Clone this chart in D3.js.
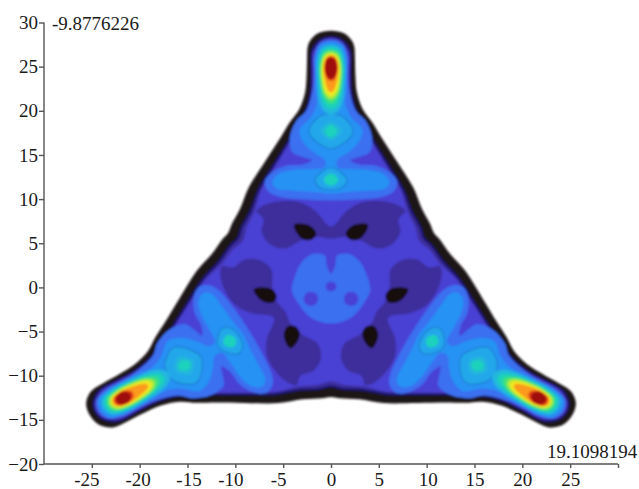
<!DOCTYPE html>
<html><head><meta charset="utf-8">
<script src="https://cdn.jsdelivr.net/npm/d3@7"></script>
<style>html,body{margin:0;background:#fff}svg{display:block}text{font-family:"Liberation Serif",serif;fill:#1a1a1a}</style>
</head><body><svg id="c" width="639" height="489"></svg>
<script>
const xTicks=[-25,-20,-15,-10,-5,0,5,10,15,20,25,30];
const yTicks=[-20,-15,-10,-5,0,5,10,15,20,25,30];
const cornerMin="-9.8776226", cornerMax="19.1098194";

// contour outlines, in data units (one symmetric sector each)
const edgeBlack=[[0,29.07],[1.4,28.75],[2.2,27.9],[2.44,27.2],[2.5,26],[2.55,24],[2.7,22.1],[3.3,20.2],[4.3,18.7],[5.25,17],[6.8,14.4],[8.6,11.3],[9.5,8.9],[10.4,7.1],[10.74,6.2]];
const edgeNavy=[[0,28.45],[1.15,28.1],[1.9,27.2],[2.1,26.5],[2.1,24],[2.2,22.1],[2.7,20.1],[3.55,18.5],[4.4,16.8],[5.9,14.2],[7.65,11.1],[8.5,8.7],[9.45,6.8],[9.8,5.66]];
const edgePurple=[[0,28.3],[1.05,27.95],[1.8,26.95],[1.96,26.4],[1.96,24],[2.05,22],[2.52,20.1],[3.4,18.4],[4.25,16.7],[5.72,14.1],[7.45,11],[8.3,8.6],[9.25,6.7],[9.6,5.54]];
const edgeIndigo=[[0,28.2],[1,27.85],[1.72,26.85],[1.9,26.2],[1.9,24],[1.98,22],[2.4,20.1],[3.3,18.4],[4.15,16.7],[5.6,14.1],[7.3,11],[8,8.6],[8.85,6.7],[9.2,5.31]];

const purpleBlob=[[0,6.9],[1.67,8.7],[3.4,9.7],[5.85,9.7],[7.4,9.1],[7.8,8.6],[7.3,8.1],[7.05,7.6],[7.25,6.3],[6.4,4.9],[4.8,4.4],[3.07,5.3],[1.3,5.7],[0,5.5]];
const eye=[[1.55,6.1],[2.1,6.9],[3,7.2],[3.85,7.1],[3.6,6.2],[2.8,5.4],[1.95,5.45]];
const centreBlob=[[0,1.55],[.45,2.5],[.63,3.6],[1.85,3.8],[3.07,2.85],[3.75,1.36],[4.1,-.35],[3.4,-1.85],[2.37,-3.2],[1,-3.96],[0,-4.1]];
const centreDot=[[0,.65],[.4,.5],[.55,.1],[.4,-.3],[0,-.45]];
const sideDot=[[2.1,-.5],[2.65,-.75],[2.85,-1.3],[2.65,-1.85],[2.1,-2.1],[1.55,-1.85],[1.35,-1.3],[1.55,-.75]];

const armBlue=[[0,28.06],[1.2,27.6],[1.74,26],[1.74,24.6],[1.85,22.7],[2.6,20],[3.6,18.9],[4.3,17],[4.05,15.3],[2.9,14.75],[2,14.4],[3.07,13.9],[4.6,13.8],[6.2,13],[6.95,11.9],[6.5,10.8],[5.5,10.3],[3.48,10],[0,9.85]];
const armLight=[[0,27.83],[1.15,27.4],[1.64,26],[1.64,24],[1.6,22.3],[1.5,20.8],[2.1,19.3],[3.3,17.8],[2.8,16.3],[1.57,15.1],[.63,14.4],[.7,13.6],[2.1,13.4],[3.94,13.3],[5.3,12.95],[6,12.3],[6.1,11.7],[5.6,11.15],[3.9,10.95],[1.74,10.8],[0,10.6]];
const armAzure=[[0,27.45],[1,27.05],[1.46,25.2],[1.4,23],[1.3,21.5],[.9,20.2],[.5,19.7],[0,19.5]];
const lobeOuterAzure=[[0,19.66],[1.05,19.47],[2.26,18],[2.26,17.4],[1.22,16.26],[0,15.7]];
const lobeInnerAzure=[[0,13.55],[.9,13.15],[1.67,12.1],[1.2,11.35],[0,11.05]];
const lobeOuterTeal=[[0,18.8],[.65,18.45],[1.15,17.7],[.65,17],[0,16.65]];
const lobeOuterCore=[[0,18.4],[.45,18.1],[.65,17.7],[.4,17.2],[0,17]];
const lobeInnerTeal=[[0,12.9],[.5,12.65],[.75,12.2],[.5,11.75],[0,11.55]];
const peakCyan=[[0,27.45],[1,27.05],[1.46,25.2],[1.4,23],[1.3,21.5],[.9,20.2],[0,19.7]];
const peakTeal=[[0,27.19],[.9,26.8],[1.32,25.2],[1.25,23.2],[1,21.6],[.5,20.4],[0,20.2]];
const peakGreen=[[0,26.9],[.8,26.55],[1.18,25.1],[1.12,23.3],[.88,21.9],[.4,21],[0,20.8]];
const peakLime=[[0,26.7],[.7,26.35],[1.05,25.1],[1,23.4],[.75,22.1],[.35,21.45],[0,21.3]];
const peakYellow=[[0,26.47],[.6,26.15],[.9,25.1],[.85,23.5],[.6,22.3],[.3,21.8],[0,21.65]];
const peakOrange=[[0,26.3],[.5,26.05],[.77,25.1],[.7,23.9],[.45,22.7],[.2,22.2],[0,22.1]];
const peakRedOrange=[[0,26.17],[.45,25.95],[.7,25.1],[.62,24.2],[.33,23.55],[0,23.4]];
const peakRed=[[0,26.05],[.4,25.85],[.63,25.1],[.55,24.3],[.3,23.75],[0,23.6]];
const sideRedOrange=[[0,26.1],[.5,25.9],[.74,25.2],[.65,24.5],[.3,24],[0,23.9]];
const sideRed=[[0,25.9],[.45,25.7],[.66,25.1],[.55,24.6],[.25,24.3],[0,24.2]];

const x=d3.scaleLinear().domain([-30,30]).range([44,618]);
const y=d3.scaleLinear().domain([-20,30]).range([464,22.5]);
const rot=(p,k)=>{const a=-2*Math.PI/3*k,c=Math.cos(a),s=Math.sin(a);return [p[0]*c-p[1]*s,p[0]*s+p[1]*c];};
const mir=p=>[-p[0],p[1]];
function star(S){let o=[];for(let k=0;k<3;k++){const b=S.map(p=>rot(mir(p),1)).reverse().slice(1,-1);o=o.concat(S.map(p=>rot(p,k)),b.map(p=>rot(p,k)));}return [o];}
function closeHalf(h){return h.concat(h.slice().reverse().filter(p=>p[0]!==0).map(mir));}
function tri(poly){return [0,1,2].map(k=>poly.map(p=>rot(p,k)));}
const island=h=>tri(closeHalf(h));
const pair=p=>tri(p).concat(tri(p.map(mir)));
const topOnly=h=>island(h).slice(0,1);
const sidesOnly=h=>island(h).slice(1);

const layers=[
 {c:"#1c1216",s:star(edgeBlack)},
 {c:"#1e1877",s:star(edgeNavy)},
 {c:"#3d2f9b",s:star(edgePurple)},
 {c:"#4a40d4",s:star(edgeIndigo)},
 {c:"#3d2f9b",s:island(purpleBlob)},
 {c:"#17100f",s:pair(eye)},
 {c:"#3b6ff0",s:[closeHalf(centreBlob)]},
 {c:"#4a40d4",s:[closeHalf(centreDot),sideDot,sideDot.map(mir)]},
 {c:"#3b6ff0",s:island(armBlue)},
 {c:"#2592f4",s:island(armLight)},
 {c:"#23a8ea",line:"#1d7fd0",s:island(lobeOuterAzure).concat(island(lobeInnerAzure))},
 {c:"#22aee6",s:island(armAzure)},
 {c:"#21b6dc",s:island(lobeOuterTeal)},
 {c:"#1fd2bc",s:island(lobeOuterCore).concat(island(lobeInnerTeal))},
 {c:"#20b8dc",s:island(peakCyan)},
 {c:"#1fd2b8",s:island(peakTeal)},
 {c:"#3ee27a",s:island(peakGreen)},
 {c:"#a4ea3a",s:island(peakLime)},
 {c:"#f0e822",s:island(peakYellow)},
 {c:"#fb9a1e",s:island(peakOrange)},
 {c:"#e23c16",s:topOnly(peakRedOrange).concat(sidesOnly(sideRedOrange))},
 {c:"#a01008",s:topOnly(peakRed).concat(sidesOnly(sideRed))}
];

const svg=d3.select("#c");
svg.append("defs").append("filter").attr("id","soft").append("feGaussianBlur").attr("stdDeviation",.9);
const path=d3.line().x(d=>x(d[0])).y(d=>y(d[1])).curve(d3.curveCatmullRomClosed.alpha(.5));
const g=svg.append("g").attr("filter","url(#soft)");
layers.forEach(l=>{
 g.selectAll(null).data(l.s).join("path").attr("d",path).attr("fill",l.c)
  .attr("stroke",l.line||"none").attr("stroke-width",l.line?1.2:0);
});

const xNudge={"-25":-5.5,"-20":-2,"-15":1,"-10":-5,"-5":-5,"10":1};
const ax=svg.append("g").attr("transform",`translate(0,${y(-20)})`)
 .call(d3.axisBottom(x).tickValues(xTicks).tickSize(4).tickPadding(5).tickFormat(d=>d===30?"":d));
const ay=svg.append("g").attr("transform",`translate(${x(-30)},0)`)
 .call(d3.axisLeft(y).tickValues(yTicks).tickSize(5).tickPadding(1));
[ax,ay].forEach(a=>{a.selectAll("path,line").attr("stroke","#555").attr("stroke-width",1.4);
 a.select(".domain").attr("d",a===ax?`M${x(-30)},0H${x(30)}`:`M0,${y(-20)}V${y(30)}`);
 a.selectAll("text").attr("font-size",19).attr("font-family","Liberation Serif").attr("fill","#1a1a1a");});
ax.selectAll(".tick text").attr("dx",d=>xNudge[d]||0);
svg.append("text").attr("x",52).attr("y",30).attr("font-size",19).text(cornerMin);
svg.append("text").attr("x",547).attr("y",458).attr("font-size",19).text(cornerMax);
</script></body></html>
